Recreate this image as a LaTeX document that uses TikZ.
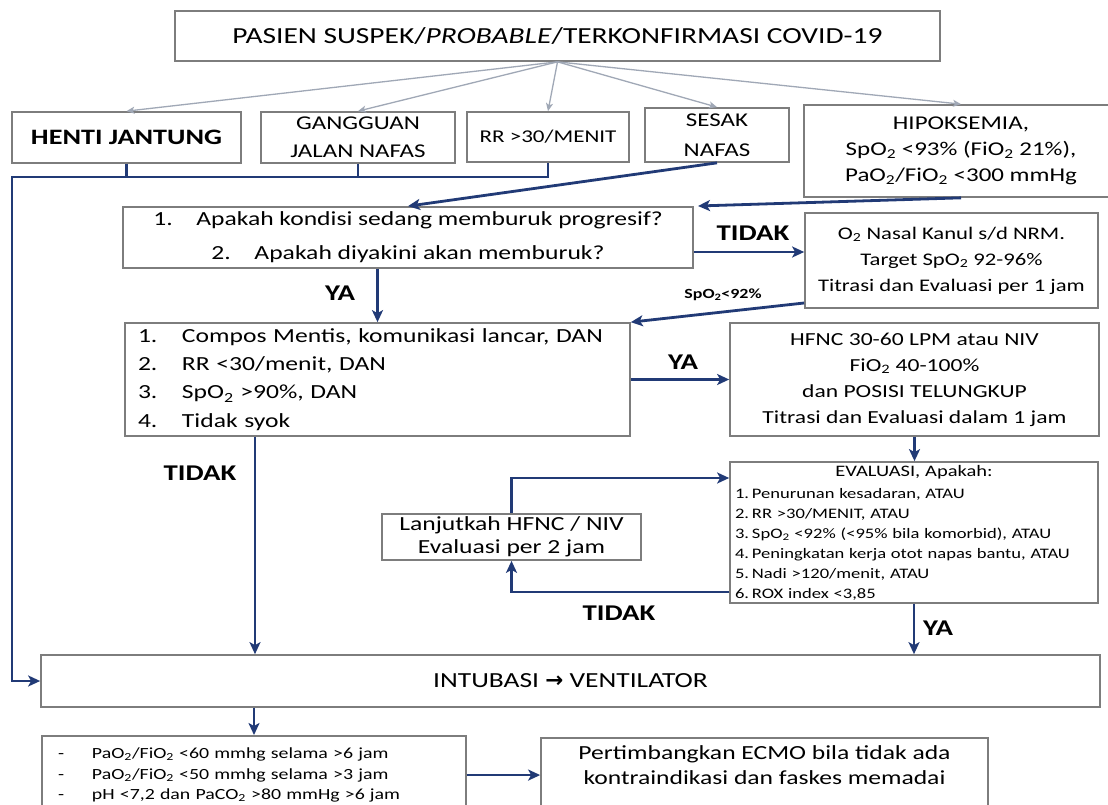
\documentclass[tikz,border=0pt]{standalone}
\usepackage{fontspec}
\setmainfont{Carlito}[FakeStretch=1.28]
\newfontfamily\arrowfont{DejaVu Sans}
\usetikzlibrary{arrows, arrows.meta}
\definecolor{navy}{RGB}{33,58,118}
\definecolor{boxgray}{RGB}{125,125,125}
\definecolor{fangray}{RGB}{160,168,182}
\newcommand{\fsz}[2]{\fontsize{#1}{#2}\selectfont}
\tikzstyle{block} = [rectangle, draw=boxgray, line width=1.7pt, fill=white, text centered, align=center, inner sep=0pt]
\tikzstyle{arrow} = [line width=2.8pt, draw=navy, ->, >={Stealth[length=12pt,width=11pt,inset=3pt]}]
\tikzstyle{line} = [line width=2.8pt, draw=navy]
\tikzstyle{fan} = [line width=1.3pt, draw=fangray, ->, >={Stealth[length=8pt,width=7pt,inset=2pt]}]
\tikzstyle{tag} = [font=\fsz{22.5}{24}\bfseries]

\begin{document}
\begin{tikzpicture}[x=1pt, y=-1pt]
	\useasboundingbox (0,0) rectangle (1108,805);
	\clip (0,0) rectangle (1108,805);
	\fill[white] (0,0) rectangle (1108,805);
	
	% Nodes
	\node (pasien) [block, minimum width=765pt, minimum height=50pt, font=\fsz{23}{24}] at (557.5,36) {PASIEN SUSPEK/\textit{PROBABLE}/TERKONFIRMASI COVID-19};
	\node (henti) [block, minimum width=229pt, minimum height=51pt, font=\fsz{22}{24}\bfseries] at (126.5,137.5) {HENTI JANTUNG};
	\node (gangguan) [block, minimum width=194pt, minimum height=51pt, font=\fsz{19.5}{28}] at (358,137.5) {GANGGUAN\\JALAN NAFAS};
	\node (rr) [block, minimum width=162pt, minimum height=50pt, font=\fsz{18}{20}] at (548,137) {RR >30/MENIT};
	\node (sesak) [block, minimum width=144pt, minimum height=54pt, font=\fsz{19.5}{30}] at (717,135) {SESAK\\NAFAS};
	\node (hipok) [block, minimum width=314pt, minimum height=92pt, font=\fsz{19.5}{26}] at (961,151) {HIPOKSEMIA,\\SpO\textsubscript{2} <93\% (FiO\textsubscript{2} 21\%),\\PaO\textsubscript{2}/FiO\textsubscript{2} <300 mmHg};
	\node (question) [block, minimum width=570pt, minimum height=61pt, font=\fsz{20}{34}] at (408,237.5) {\makebox[43pt][l]{1.}Apakah kondisi sedang memburuk progresif?\\\makebox[43pt][l]{2.}Apakah diyakini akan memburuk?};
	\node (o2) [block, minimum width=293pt, minimum height=95pt, font=\fsz{17.7}{26}] at (951.5,260.5) {O\textsubscript{2} Nasal Kanul s/d NRM.\\Target SpO\textsubscript{2} 92-96\%\\Titrasi dan Evaluasi per 1 jam};
	\node (compos) [block, minimum width=505pt, minimum height=113pt, text width=479pt, align=left, font=\fsz{20}{28.3}] at (377.5,379.5) {\makebox[44pt][l]{1.}Compos Mentis, komunikasi lancar, DAN\\\makebox[44pt][l]{2.}RR <30/menit, DAN\\\makebox[44pt][l]{3.}SpO\textsubscript{2} >90\%, DAN\\\makebox[44pt][l]{4.}Tidak syok};
	\node (hfnc) [block, minimum width=369pt, minimum height=113pt, font=\fsz{18.4}{26}] at (914.5,379.5) {HFNC 30-60 LPM atau NIV\\FiO\textsubscript{2} 40-100\%\\dan POSISI TELUNGKUP\\Titrasi dan Evaluasi dalam 1 jam};
	\node (eval) [block, minimum width=368pt, minimum height=141pt, text width=358pt, align=left, font=\fsz{14.5}{20}] at (914,532.5) {\makebox[358pt][c]{\fsz{16}{20}EVALUASI, Apakah:}\\[2pt]
		\makebox[17pt][l]{1.}Penurunan kesadaran, ATAU\\
		\makebox[17pt][l]{2.}RR >30/MENIT, ATAU\\
		\makebox[17pt][l]{3.}SpO\textsubscript{2} <92\% (<95\% bila komorbid), ATAU\\
		\makebox[17pt][l]{4.}Peningkatan kerja otot napas bantu, ATAU\\
		\makebox[17pt][l]{5.}Nadi >120/menit, ATAU\\
		\makebox[17pt][l]{6.}ROX index <3,85};
	\node (lanjut) [block, minimum width=259pt, minimum height=46pt, font=\fsz{20}{23}] at (511.5,537) {Lanjutkah HFNC / NIV\\Evaluasi per 2 jam};
	\node (intub) [block, minimum width=1059pt, minimum height=52pt, font=\fsz{21.5}{22}] at (570.5,681) {INTUBASI {\arrowfont\bfseries →} VENTILATOR};
	\node (crit) [block, anchor=north, text width=392pt, align=left, inner xsep=16pt, inner ysep=12pt, font=\fsz{15.5}{20.5}] at (254,735) {\makebox[34pt][l]{-}PaO\textsubscript{2}/FiO\textsubscript{2} <60 mmhg selama >6 jam\\\makebox[34pt][l]{-}PaO\textsubscript{2}/FiO\textsubscript{2} <50 mmhg selama >3 jam\\\makebox[34pt][l]{-}pH <7,2 dan PaCO\textsubscript{2} >80 mmHg >6 jam};
	\node (ecmo) [block, anchor=north, minimum width=447pt, inner ysep=8pt, text depth=25pt, font=\fsz{20}{25}] at (764.5,737) {Pertimbangkan ECMO bila tidak ada\\kontraindikasi dan faskes memadai};
	
	% Labels
	\node (tidak1) [tag] at (753,233) {TIDAK};
	\node (spo) [font=\fsz{14}{16}\bfseries] at (723,295) {SpO\textsubscript{2}<92\%};
	\node (ya1) [tag] at (340,293) {YA};
	\node (ya2) [tag] at (683,362) {YA};
	\node (tidak2) [tag] at (200,473) {TIDAK};
	\node (tidak3) [tag] at (619,613) {TIDAK};
	\node (ya3) [tag] at (938,628) {YA};
	
	\coordinate (fork) at (12,177);
	\coordinate (qcorner) at (698,206);
	
	% Arrows
	\foreach \t in {henti,gangguan,rr,sesak,hipok}
		\draw [fan] (pasien.south) -- (\t.north);
	\draw [line] (henti.south) -- (henti.south |- fork);
	\draw [line] (gangguan.south) -- (gangguan.south |- fork);
	\draw [arrow] (rr.south) |- (fork) |- (intub.west);
	\draw [arrow] (sesak.south) -- (question.north);
	\draw [arrow] (hipok.south) -- (qcorner);
	\draw [arrow] ([yshift=-14.5pt]question.east) -- ([yshift=-14.5pt]question.east -| o2.west);
	\draw [arrow] ([yshift=-42.5pt]o2.west) -- (compos.north east);
	\draw [arrow] (compos.north |- question.south) -- (compos.north);
	\draw [arrow] (compos.east) -- (hfnc.west);
	\draw [arrow] (hfnc.south) -- (hfnc.south |- eval.north);
	\draw [arrow] ([yshift=-59.5pt]eval.west) -| (lanjut.south);
	\draw [arrow] (lanjut.north) |- ([yshift=54.5pt]eval.west);
	\draw [arrow] (eval.south) -- (eval.south |- intub.north);
	\draw [arrow] ([xshift=-122.5pt]compos.south) -- ([xshift=-122.5pt]compos.south |- intub.north);
	\draw [arrow] (crit.north |- intub.south) -- (crit.north);
	\draw [arrow] (crit.east) -- (crit.east -| ecmo.west);
	
\end{tikzpicture}
\end{document}
